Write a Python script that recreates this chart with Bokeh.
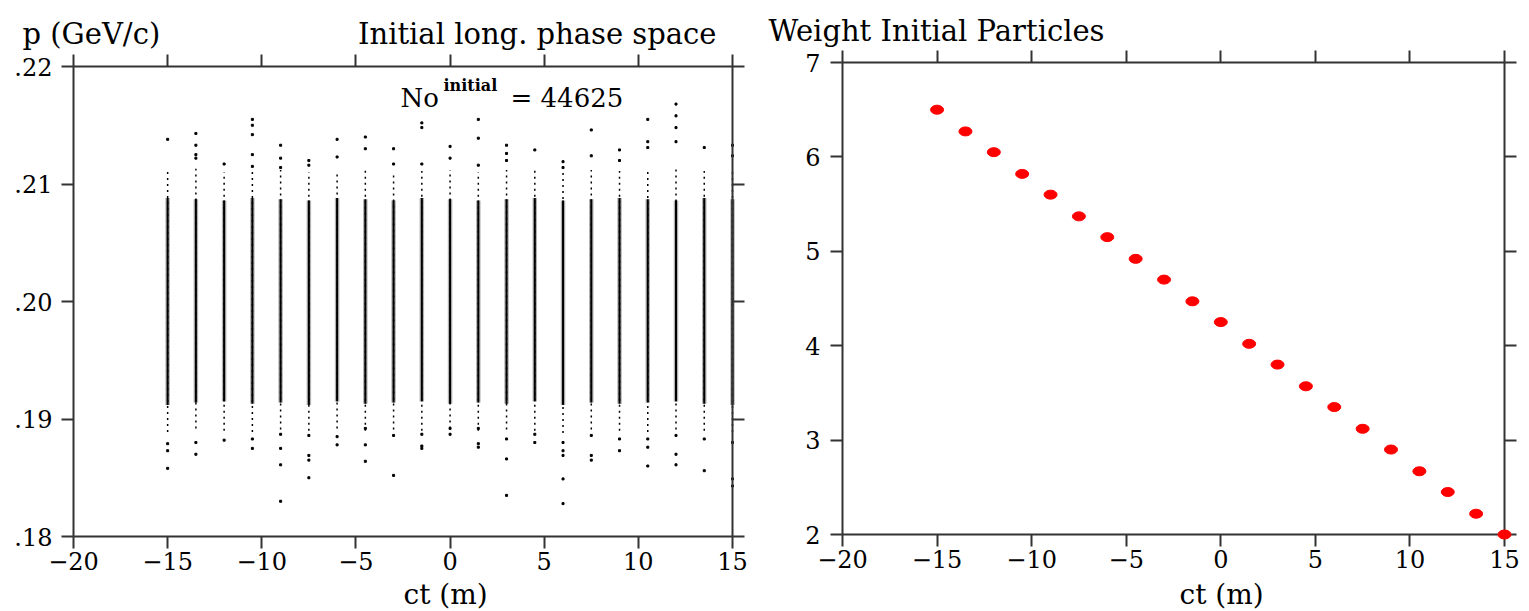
from bokeh.plotting import figure
from bokeh.layouts import row
from bokeh.models import LinearAxis, FixedTicker, Label, Range1d
from bokeh.embed import file_html
from bokeh.resources import INLINE

# ---------------- data ----------------
# left panel: 21 bunches of particles in longitudinal phase space
stripe_ct = [-15.0, -13.5, -12.0, -10.5, -9.0, -7.5, -6.0, -4.5, -3.0, -1.5, 0.0,
             1.5, 3.0, 4.5, 6.0, 7.5, 9.0, 10.5, 12.0, 13.5, 15.0]
core_lo = [0.1912, 0.1914, 0.1915, 0.1913, 0.1914, 0.1912, 0.1915, 0.1913, 0.1914, 0.1915, 0.1913,
           0.1914, 0.1913, 0.1915, 0.1912, 0.1914, 0.1913, 0.1914, 0.1915, 0.1913, 0.1912]
core_hi = [0.2088, 0.2087, 0.2086, 0.2088, 0.2087, 0.2086, 0.2088, 0.2087, 0.2086, 0.2088, 0.2087,
           0.2086, 0.2087, 0.2088, 0.2086, 0.2087, 0.2088, 0.2087, 0.2086, 0.2088, 0.2087]
tail_lo = [0.1889, 0.1892, 0.1890, 0.1889, 0.1891, 0.1890, 0.1892, 0.1890, 0.1891, 0.1890, 0.1892,
           0.1890, 0.1891, 0.1890, 0.1888, 0.1891, 0.1890, 0.1889, 0.1891, 0.1890, 0.1889]
tail_hi = [0.2112, 0.2113, 0.2110, 0.2111, 0.2112, 0.2110, 0.2111, 0.2112, 0.2110, 0.2111, 0.2112,
           0.2110, 0.2112, 0.2113, 0.2111, 0.2112, 0.2111, 0.2112, 0.2113, 0.2111, 0.2112]

out_ct = [-15, -15, -15, -15,
          -13.5, -13.5, -13.5, -13.5, -13.5, -13.5,
          -12, -12,
          -10.5, -10.5, -10.5, -10.5, -10.5, -10.5, -10.5,
          -9, -9, -9, -9, -9, -9, -9,
          -7.5, -7.5, -7.5, -7.5, -7.5, -7.5,
          -6, -6, -6, -6,
          -4.5, -4.5, -4.5, -4.5, -4.5,
          -3, -3, -3, -3,
          -1.5, -1.5, -1.5, -1.5, -1.5, -1.5,
          0, 0, 0, 0,
          1.5, 1.5, 1.5, 1.5, 1.5, 1.5,
          3, 3, 3, 3, 3, 3,
          4.5, 4.5, 4.5,
          6, 6, 6, 6, 6, 6, 6,
          7.5, 7.5, 7.5, 7.5, 7.5,
          9, 9, 9, 9,
          10.5, 10.5, 10.5, 10.5, 10.5, 10.5,
          12, 12, 12, 12, 12, 12, 12,
          13.5, 13.5, 13.5,
          15, 15, 15, 15, 15]
out_p = [0.2138, 0.1879, 0.1873, 0.1858,
         0.2143, 0.2133, 0.2125, 0.2122, 0.1880, 0.1870,
         0.2117, 0.1882,
         0.2155, 0.2150, 0.2142, 0.2125, 0.2115, 0.1883, 0.1875,
         0.2133, 0.2122, 0.2114, 0.1887, 0.1875, 0.1861, 0.1830,
         0.2120, 0.2116, 0.1886, 0.1869, 0.1865, 0.1850,
         0.2138, 0.2123, 0.1885, 0.1878,
         0.2140, 0.2130, 0.1892, 0.1878, 0.1864,
         0.2130, 0.2117, 0.1886, 0.1852,
         0.2152, 0.2148, 0.2117, 0.1887, 0.1877, 0.1875,
         0.2132, 0.2122, 0.1892, 0.1887,
         0.2155, 0.2139, 0.2116, 0.1892, 0.1879, 0.1876,
         0.2133, 0.2126, 0.2120, 0.1883, 0.1866, 0.1835,
         0.2129, 0.1887, 0.1880,
         0.2119, 0.2114, 0.1880, 0.1873, 0.1869, 0.1849, 0.1828,
         0.2146, 0.2124, 0.1886, 0.1869, 0.1865,
         0.2129, 0.2120, 0.1883, 0.1873,
         0.2155, 0.2136, 0.2131, 0.1883, 0.1876, 0.1860,
         0.2168, 0.2158, 0.2148, 0.2136, 0.1886, 0.1870, 0.1861,
         0.2131, 0.1883, 0.1856,
         0.2133, 0.2124, 0.1880, 0.1849, 0.1843]

n_initial = 44625

# right panel: weight of initial particles
w_ct = [-15.0, -13.5, -12.0, -10.5, -9.0, -7.5, -6.0, -4.5, -3.0, -1.5, 0.0,
        1.5, 3.0, 4.5, 6.0, 7.5, 9.0, 10.5, 12.0, 13.5, 15.0]
w_val = [6.50, 6.27, 6.05, 5.82, 5.60, 5.37, 5.15, 4.92, 4.70, 4.47, 4.25,
         4.02, 3.80, 3.57, 3.35, 3.12, 2.90, 2.67, 2.45, 2.22, 2.00]

x_ticks = [-20, -15, -10, -5, 0, 5, 10, 15]
x_tick_labels = ["\u221220", "\u221215", "\u221210", "\u22125", "0", "5", "10", "15"]
p_ticks = [0.18, 0.19, 0.20, 0.21, 0.22]
p_tick_labels = [".18", ".19", ".20", ".21", ".22"]
w_ticks = [2, 3, 4, 5, 6, 7]
w_tick_labels = ["2", "3", "4", "5", "6", "7"]

SERIF = "DejaVu Serif"
AX_COL = "#333333"
H = 610


def style_axis(ax, ticks, labels, show_labels=True, standoff=4):
    ax.ticker = FixedTicker(ticks=ticks)
    if show_labels:
        ax.major_label_overrides = {t: l for t, l in zip(ticks, labels)}
    else:
        ax.major_label_overrides = {t: "" for t in ticks}
    ax.major_tick_out = 12
    ax.major_tick_in = 0
    ax.minor_tick_out = 0
    ax.minor_tick_in = 0
    ax.axis_line_width = 2
    ax.axis_line_color = AX_COL
    ax.major_tick_line_width = 2
    ax.major_tick_line_color = AX_COL
    ax.major_label_text_font = SERIF
    ax.major_label_text_color = "black"
    ax.major_label_standoff = standoff
    ax.major_label_text_font_size = "24px"


def make_fig(width, box, xlim, ylim):
    # box = (left, right, top, bottom) pixel position of the axes box inside the figure
    bl, br, bt, bb = box
    xs = (br - bl) / (xlim[1] - xlim[0])
    ys = (bb - bt) / (ylim[1] - ylim[0])
    xr = Range1d(xlim[0] - bl / xs, xlim[1] + (width - br) / xs)
    yr = Range1d(ylim[0] - (H - bb) / ys, ylim[1] + bt / ys)
    f = figure(width=width, height=H, x_range=xr, y_range=yr,
               output_backend="svg", toolbar_location=None,
               x_axis_location=None, y_axis_location=None,
               min_border_left=0, min_border_right=0,
               min_border_top=0, min_border_bottom=0)
    f.outline_line_color = None
    f.xgrid.visible = False
    f.ygrid.visible = False
    f.background_fill_color = "white"
    f.border_fill_color = "white"
    return f


def add_axes(f, xlim, ylim, xt, xl, yt, yl, ystand):
    b = LinearAxis(fixed_location=ylim[0], bounds=xlim)
    style_axis(b, xt, xl, True, 3)
    f.add_layout(b, "below")
    l = LinearAxis(fixed_location=xlim[0], bounds=ylim)
    style_axis(l, yt, yl, True, ystand)
    f.add_layout(l, "left")
    a = LinearAxis(fixed_location=ylim[1], bounds=xlim)
    style_axis(a, xt, xl, False)
    f.add_layout(a, "above")
    r = LinearAxis(fixed_location=xlim[1], bounds=ylim)
    style_axis(r, yt, yl, False)
    f.add_layout(r, "right")


def text(f, x, y, s, dx, dy, size="28px", align="left", style="normal"):
    f.add_layout(Label(x=x, y=y, x_offset=dx, y_offset=dy, text=s,
                       text_font=SERIF, text_font_size=size, text_color="black",
                       text_align=align, text_baseline="alphabetic",
                       text_font_style=style))


# ---------------- left panel ----------------
X1 = (-20, 15)
Y1 = (0.18, 0.22)
p1 = make_fig(760, (73, 732, 66, 536), X1, Y1)
add_axes(p1, X1, Y1, x_ticks, x_tick_labels, p_ticks, p_tick_labels, 9)

# sparse tails
p1.segment(x0=stripe_ct, y0=tail_lo, x1=stripe_ct, y1=tail_hi,
           line_color="black", line_width=1.5, line_dash="2 4")
# fuzzy fringe of each bunch
p1.segment(x0=stripe_ct, y0=core_lo, x1=stripe_ct, y1=core_hi,
           line_color="black", line_width=4.5, line_alpha=0.3)
# dense core
p1.segment(x0=stripe_ct, y0=core_lo, x1=stripe_ct, y1=core_hi,
           line_color="black", line_width=2)
# isolated particles
p1.scatter(x=out_ct, y=out_p, marker="square", size=2, color="black")

text(p1, -20, 0.22, "p (GeV/c)", -51, 33, size="29px")
text(p1, -20, 0.22, "Initial long. phase space", 643, 33, size="29px", align="right")
text(p1, -20, 0.22, "No", 327, -31, size="26px")
text(p1, -20, 0.22, "initial", 370, -19, size="16px", style="bold")
text(p1, -20, 0.22, "= " + str(n_initial), 437, -31, size="26px")
text(p1, -20, 0.18, "ct (m)", 330, -58, size="28px")

# ---------------- right panel ----------------
X2 = (-20, 15)
Y2 = (2, 7)
p2 = make_fig(768, (82, 744, 62, 534), X2, Y2)
add_axes(p2, X2, Y2, x_ticks, x_tick_labels, w_ticks, w_tick_labels, 10)

r = p2.ellipse(x=w_ct, y=w_val, width=13, height=9,
               width_units="screen", height_units="screen",
               fill_color="#ff0000", line_color="#ff0000")
r.level = "overlay"

text(p2, -20, 7, "Weight Initial Particles", -74, 32, size="29px")
text(p2, -20, 2, "ct (m)", 337, -60, size="28px")

layout = row(p1, p2)
open("out.html", "w").write(file_html(layout, INLINE))
